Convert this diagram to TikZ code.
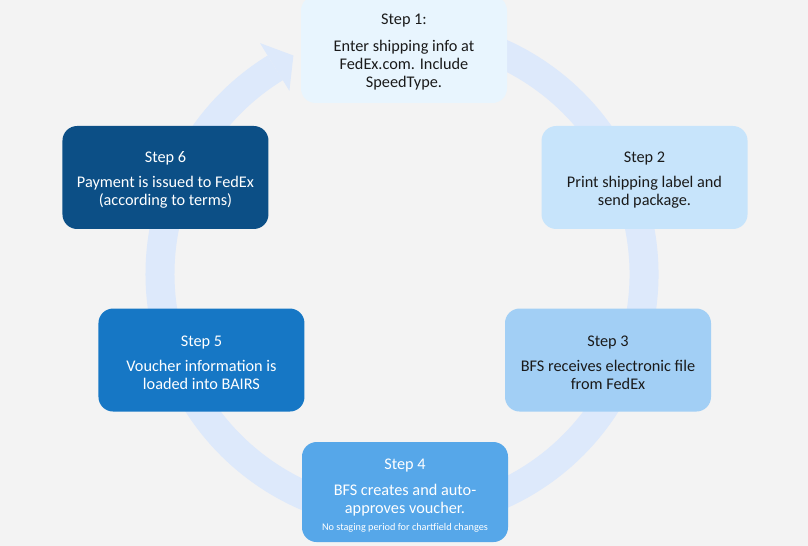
\documentclass[tikz,border=0pt]{standalone}
\usepackage{fontspec}
\setmainfont{Carlito}
\usetikzlibrary{positioning}

\definecolor{bgc}{HTML}{F3F3F3}
\definecolor{ringc}{HTML}{DDE9FB}
\definecolor{c1}{HTML}{E8F5FE}
\definecolor{c2}{HTML}{C7E4FB}
\definecolor{c3}{HTML}{A2CFF5}
\definecolor{c4}{HTML}{56A7E9}
\definecolor{c5}{HTML}{1677C5}
\definecolor{c6}{HTML}{0C4F86}
\definecolor{ink}{HTML}{1A1A1A}
\newcommand{\steptitle}[2][11.8pt]{\rule{0pt}{#1}#2}

\begin{document}
\begin{tikzpicture}[x=0.75pt, y=0.75pt, on grid,
    font=\fontsize{12.2}{13.5}\selectfont,
    stepbox/.style={rectangle, rounded corners=11pt, minimum width=154.5pt,
        minimum height=77.25pt, align=center, inner sep=0pt, text=ink},
    darkbox/.style={stepbox, text=white}]
    \useasboundingbox (0,0) rectangle (808,546);
    \fill[bgc] (0,0) rectangle (808,546);
    % ring with arrow head
    \draw[ringc, line width=21.75pt] (402,272) ++(100:242) arc[start angle=100, end angle=-238.4, radius=242];
    \fill[ringc] (260.0,502.9) -- (293.4,490.5) -- (289.4,455.1) -- cycle;
    % steps
    \node[stepbox, fill=c1, minimum height=80.25pt] (step_1) at (404,496.5)
        {\steptitle[12pt]{Step 1:}\\[6.75pt] Enter shipping info at\\ FedEx.com. Include\\ SpeedType.};
    \node[stepbox, fill=c2] (step_2) [below right=96pt and 180.4pt of step_1]
        {\steptitle{Step 2}\\[5.25pt] Print shipping label and\\ send package.};
    \node[stepbox, fill=c3] (step_3) [below left=136.9pt and 27.4pt of step_2]
        {\steptitle{Step 3}\\[5.25pt] BFS receives electronic file\\ from FedEx};
    \node[darkbox, fill=c4, minimum height=75pt] (step_4) [below left=99pt and 152.25pt of step_3]
        {\steptitle[13pt]{Step 4}\\[6pt] BFS creates and auto-\\ approves voucher.\\[-0.5pt]
        {\fontsize{7.7}{8}\selectfont No staging period for chartfield changes}};
    \node[stepbox, fill=c6, text=white] (step_6) [below left=96pt and 178.9pt of step_1]
        {\steptitle{Step 6}\\[5.25pt] Payment is issued to FedEx\\ (according to terms)};
    \node[darkbox, fill=c5] (step_5) [below right=136.9pt and 27pt of step_6]
        {\steptitle{Step 5}\\[5.25pt] Voucher information is\\ loaded into BAIRS};
\end{tikzpicture}
\end{document}
